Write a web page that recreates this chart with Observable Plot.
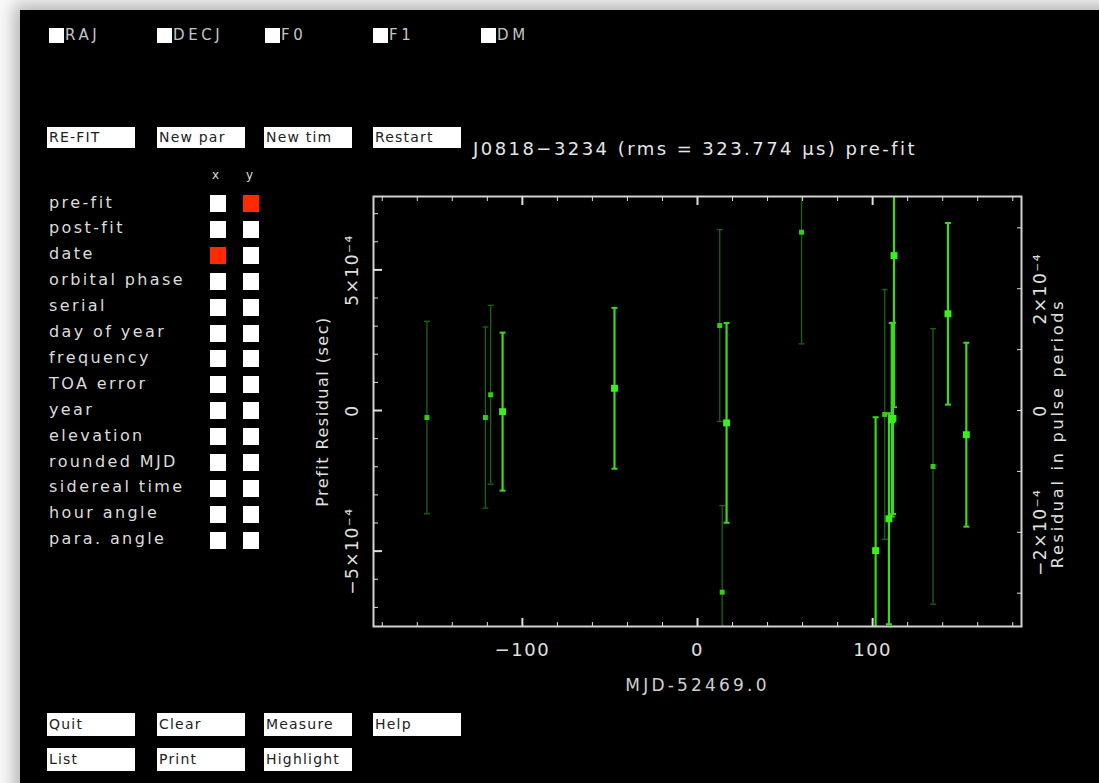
<!DOCTYPE html>
<html>
<head>
<meta charset="utf-8">
<script src="https://cdn.jsdelivr.net/npm/d3@7"></script>
<script src="https://cdn.jsdelivr.net/npm/@observablehq/plot@0.6"></script>
<style>
  html, body { margin: 0; padding: 0; width: 1099px; height: 783px; overflow: hidden; background: #fafafa; }
  #win { position: absolute; left: 20px; top: 10px; width: 1100px; height: 800px; background: #000;
         box-shadow: 0 0 16px 6px rgba(0,0,0,0.28); }
  .abs { position: absolute; font-family: "DejaVu Sans", sans-serif; white-space: nowrap; }
  .cbtop { color: #c4c4c4; font-size: 15px; letter-spacing: 3.6px; line-height: 15px; }
  .cbtop .box { display: inline-block; width: 15px; height: 15px; background: #fff; vertical-align: top; margin-right: 1px; }
  .btn { background: #fff; color: #222; font-size: 14px; letter-spacing: 1.2px; padding-left: 2px; box-sizing: border-box; }
  .lab { color: #dcdcdc; font-size: 16px; letter-spacing: 2.4px; }
  .sq { width: 16px; height: 17px; background: #fff; }
  .sq.on { background: #ff2a00; }
  #title { color: #e6e6e6; font-size: 18px; letter-spacing: 2.45px; }
  #chart { position: absolute; left: 290px; top: 176px; }
</style>
</head>
<body>
<div id="win"></div>
<div id="ui"></div>
<div id="chart"></div>
<script>
// ---------- chart data ----------
const pulsar = "J0818\u22123234";
const rmsMicroSec = 323.774;
const mjdReference = 52469.0;
const pulsePeriodSec = 2.165;

// x: MJD - 52469.0 (days)
const mjdOffset = [-154.5, -121.1, -118.1, -111.3, -47.4, 12.7, 16.6, 14.1, 59.4, 101.7, 106.9, 109.3, 110.9, 111.6, 112.2, 134.5, 143.0, 153.5];
// y: pre-fit residual (s)
const residualSec = [-0.25e-4, -0.25e-4, 0.56e-4, -0.04e-4, 0.79e-4, 3.02e-4, -0.44e-4, -6.46e-4, 6.34e-4, -4.98e-4, -0.14e-4, -3.85e-4, -0.33e-4, -0.28e-4, 5.51e-4, -1.99e-4, 3.44e-4, -0.86e-4];
// TOA uncertainty (s)
const errorSec = [3.42e-4, 3.22e-4, 3.18e-4, 2.81e-4, 2.86e-4, 3.41e-4, 3.55e-4, 3.08e-4, 3.97e-4, 4.74e-4, 4.44e-4, 3.75e-4, 3.44e-4, 3.40e-4, 5.39e-4, 4.90e-4, 3.23e-4, 3.27e-4];
// point group (faint / bright)
const pointGroup = ["faint", "faint", "faint", "bright", "bright", "faint", "bright", "faint", "faint", "bright", "faint", "bright", "bright", "bright", "bright", "faint", "bright", "bright"];

// ticks
const xDomain = [-185, 185];
const yDomain = [-7.68e-4, 7.61e-4];
const xMajorTicks = [-100, 0, 100];
const xTickLabels = ["\u2212100", "0", "100"];
const xMinorTicks = [-180, -160, -140, -120, -80, -60, -40, -20, 20, 40, 60, 80, 120, 140, 160, 180];
const yMajorTicks = [-5e-4, 0, 5e-4];
const yTickLabels = ["\u22125\u00d710\u207b\u2074", "0", "5\u00d710\u207b\u2074"];
const yMinorTicks = [-7e-4, -6e-4, -4e-4, -3e-4, -2e-4, -1e-4, 1e-4, 2e-4, 3e-4, 4e-4, 6e-4, 7e-4];
const periodTicks = [-3e-4, -2e-4, -1e-4, 0, 1e-4, 2e-4, 3e-4];
const periodLabelTicks = [-2e-4, 0, 2e-4];
const periodTickLabels = ["\u22122\u00d710\u207b\u2074", "0", "2\u00d710\u207b\u2074"];

const xLabel = "MJD-52469.0";
const yLabel = "Prefit Residual (sec)";
const y2Label = "Residual in pulse periods";

// ---------- UI texts ----------
const fitParams = ["RAJ", "DECJ", "F0", "F1", "DM"];
const topButtons = ["RE-FIT", "New par", "New tim", "Restart"];
const bottomButtons1 = ["Quit", "Clear", "Measure", "Help"];
const bottomButtons2 = ["List", "Print", "Highlight"];
const axisChoices = ["pre-fit", "post-fit", "date", "orbital phase", "serial", "day of year", "frequency", "TOA error", "year", "elevation", "rounded MJD", "sidereal time", "hour angle", "para. angle"];
const selectedX = "date";
const selectedY = "pre-fit";

// ---------- UI ----------
const ui = document.getElementById("ui");
function add(cls, style, html) {
  const d = document.createElement("div");
  d.className = "abs " + cls;
  Object.assign(d.style, style);
  d.innerHTML = html;
  ui.appendChild(d);
  return d;
}
fitParams.forEach((p, i) => add("cbtop", {left: (49 + i * 108) + "px", top: "28px"}, '<span class="box"></span>' + p));
const btnX = [47, 157, 264, 373];
topButtons.forEach((b, i) => add("btn", {left: btnX[i] + "px", top: "127px", width: "88px", height: "21px", lineHeight: "21px"}, b));
bottomButtons1.forEach((b, i) => add("btn", {left: btnX[i] + "px", top: "713px", width: "88px", height: "23px", lineHeight: "23px"}, b));
bottomButtons2.forEach((b, i) => add("btn", {left: btnX[i] + "px", top: "748px", width: "88px", height: "23px", lineHeight: "23px"}, b));
add("lab", {left: "212px", top: "168px", fontSize: "12px"}, "x");
add("lab", {left: "246px", top: "168px", fontSize: "12px"}, "y");
axisChoices.forEach((c, i) => {
  const cy = 203.5 + i * 25.9;
  add("lab", {left: "49px", top: (cy - 11) + "px", lineHeight: "20px"}, c);
  add("sq" + (c === selectedX ? " on" : ""), {left: "210px", top: (cy - 8.5) + "px"}, "");
  add("sq" + (c === selectedY ? " on" : ""), {left: "243px", top: (cy - 8.5) + "px"}, "");
});
add("", {left: "473px", top: "138px"}, "").id = "title";
document.getElementById("title").textContent = `${pulsar} (rms = ${rmsMicroSec} \u03bcs) pre-fit`;

// ---------- chart ----------
const rows = mjdOffset.map((x, i) => ({x, y: residualSec[i], err: errorSec[i], g: pointGroup[i]}));
const bright = rows.filter(d => d.g === "bright");
const faint = rows.filter(d => d.g === "faint");
const colBright = "#3bd81c", colFaint = "#1a6410", dotBright = "#39f01a", dotFaint = "#30d014";
const capSymbol = {draw(ctx, size) { ctx.moveTo(-3, 0); ctx.lineTo(3, 0); }};
const tickCol = "#dedede";

const chart = Plot.plot({
  width: 800, height: 540,
  marginLeft: 83, marginRight: 69, marginTop: 20, marginBottom: 90,
  style: {background: "transparent", color: "#e0e0e0", fontFamily: "DejaVu Sans, sans-serif", letterSpacing: "1.5px", overflow: "visible"},
  x: {domain: xDomain, axis: null},
  y: {domain: yDomain, axis: null},
  marks: [
    // error bars
    Plot.ruleX(faint, {x: "x", y1: d => d.y - d.err, y2: d => d.y + d.err, stroke: colFaint, strokeWidth: 1.3, clip: true}),
    Plot.dot(faint, {x: "x", y: d => d.y - d.err, symbol: capSymbol, stroke: colFaint, strokeWidth: 1.3, fill: "none", clip: true}),
    Plot.dot(faint, {x: "x", y: d => d.y + d.err, symbol: capSymbol, stroke: colFaint, strokeWidth: 1.3, fill: "none", clip: true}),
    Plot.ruleX(bright, {x: "x", y1: d => d.y - d.err, y2: d => d.y + d.err, stroke: colBright, strokeWidth: 2.2, clip: true}),
    Plot.dot(bright, {x: "x", y: d => d.y - d.err, symbol: capSymbol, stroke: colBright, strokeWidth: 2, fill: "none", clip: true}),
    Plot.dot(bright, {x: "x", y: d => d.y + d.err, symbol: capSymbol, stroke: colBright, strokeWidth: 2, fill: "none", clip: true}),
    // points
    Plot.dot(faint, {x: "x", y: "y", symbol: "square", r: 2.8, fill: dotFaint, clip: true}),
    Plot.dot(bright, {x: "x", y: "y", symbol: "square", r: 3.9, fill: dotBright, clip: true}),
    // frame
    Plot.frame({stroke: "#d2d2d2", strokeWidth: 2}),
    // ticks (inward)
    Plot.axisX({anchor: "bottom", ticks: xMajorTicks, tickSize: -8, strokeWidth: 2, stroke: tickCol, fill: "none", label: null}),
    Plot.axisX({anchor: "bottom", ticks: xMinorTicks, tickSize: -4, stroke: tickCol, fill: "none", label: null}),
    Plot.axisX({anchor: "top", ticks: xMajorTicks, tickSize: -8, strokeWidth: 2, stroke: tickCol, fill: "none", label: null}),
    Plot.axisX({anchor: "top", ticks: xMinorTicks, tickSize: -4, stroke: tickCol, fill: "none", label: null}),
    Plot.axisY({anchor: "left", ticks: yMajorTicks, tickSize: -9, strokeWidth: 2, stroke: tickCol, fill: "none", label: null}),
    Plot.axisY({anchor: "left", ticks: yMinorTicks, tickSize: -5, stroke: tickCol, fill: "none", label: null}),
    Plot.axisY({anchor: "right", ticks: periodTicks.map(p => p * pulsePeriodSec), tickSize: -5, stroke: tickCol, fill: "none", label: null}),
    // tick labels
    Plot.text(xMajorTicks, {x: d => d, text: (d, i) => xTickLabels[i], frameAnchor: "bottom", dy: 29, fontSize: 18}),
    Plot.text(yMajorTicks, {y: d => d, text: (d, i) => yTickLabels[i], frameAnchor: "left", textAnchor: "middle", dx: -21, rotate: -90, fontSize: 17}),
    Plot.text(periodLabelTicks, {y: d => d * pulsePeriodSec, text: (d, i) => periodTickLabels[i], frameAnchor: "right", textAnchor: "middle", dx: 19, rotate: -90, fontSize: 17}),
    // axis titles
    Plot.text([xLabel], {text: d => d, frameAnchor: "bottom", dy: 64, fontSize: 17, fill: "#d0d0d0", letterSpacing: "3px"}),
    Plot.text([yLabel], {text: d => d, frameAnchor: "left", textAnchor: "middle", dx: -51, rotate: -90, fontSize: 16}),
    Plot.text([y2Label], {text: d => d, frameAnchor: "right", textAnchor: "middle", dx: 36, dy: 22, rotate: -90, fontSize: 16})
  ]
});
// extra letter spacing for some labels to mimic the wide PGPLOT font
chart.querySelectorAll("text").forEach(t => {
  if (t.textContent === xLabel) t.style.letterSpacing = "3.2px";
  if (t.textContent === y2Label) t.style.letterSpacing = "2.8px";
});
document.getElementById("chart").appendChild(chart);
</script>
</body>
</html>
